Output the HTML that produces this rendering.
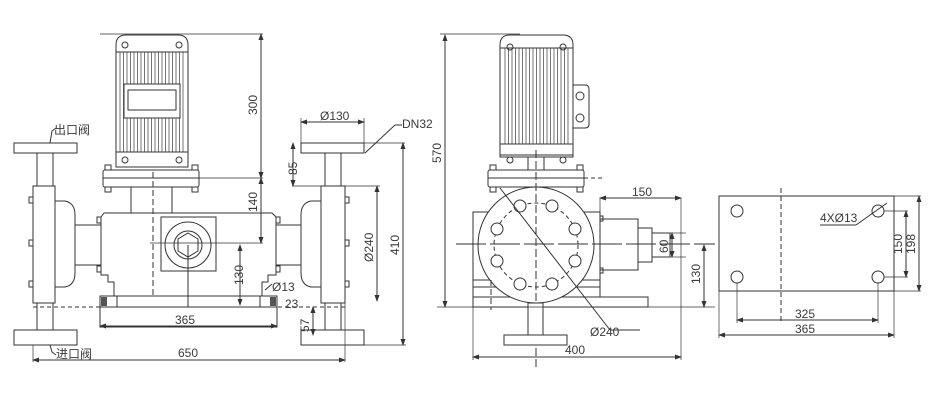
<!DOCTYPE html>
<html><head><meta charset="utf-8"><style>
html,body{margin:0;padding:0;background:#fff;}
svg{display:block;}
text{font-family:"Liberation Sans","Noto Sans CJK SC",sans-serif;font-size:12px;fill:#3a3a3a;}
</style></head><body>
<svg width="930" height="400" viewBox="0 0 930 400" xmlns="http://www.w3.org/2000/svg">
<defs>
<marker id="a" markerWidth="7" markerHeight="5" refX="6" refY="2.5" orient="auto-start-reverse"><path d="M0,0 L7,2.5 L0,5 z" fill="#333"/></marker>
<pattern id="fins" width="3.5" height="10" patternUnits="userSpaceOnUse"><rect width="3.5" height="10" fill="#fff"/><line x1="1" y1="0" x2="1" y2="10" stroke="#666" stroke-width="0.9"/></pattern>
</defs>
<g fill="none" stroke="#333" stroke-width="1">
<!-- ===== LEFT VIEW ===== -->
<path d="M116,45 Q116,35 126,35 L178,35 Q188,35 188,45 L188,167 L116,167 Z" fill="#fff"/>
<rect x="118" y="52" width="68" height="100" fill="url(#fins)" stroke="none"/>
<line x1="116" y1="52" x2="188" y2="52"/><line x1="116" y1="152" x2="188" y2="152"/>
<rect x="124" y="84" width="56" height="34" fill="#fff"/>
<rect x="128" y="90" width="48" height="20" fill="#fff"/>
<circle cx="125" cy="45" r="3"/><circle cx="179" cy="45" r="3"/><circle cx="125" cy="160" r="3"/><circle cx="179" cy="160" r="3"/>
<rect x="103" y="170" width="96" height="17" rx="2" fill="#fff"/>
<line x1="103" y1="178" x2="199" y2="178"/>
<rect x="105" y="165" width="6" height="5"/><rect x="192" y="165" width="6" height="5"/>
<rect x="105" y="187" width="6" height="5"/><rect x="192" y="187" width="6" height="5"/>
<rect x="131" y="187" width="41" height="26"/>
<path d="M104,213 L272,213 L276,217 L276,275 L268,275 L268,282 L262,282 L262,296 L114,296 L114,282 L108,282 L108,275 L101,275 L101,217 Z" fill="#fff"/>
<rect x="161" y="217" width="55" height="54"/>
<circle cx="188" cy="245" r="23"/><circle cx="188" cy="245" r="14"/>
<polygon points="188,233 198,239 198,251 188,257 178,251 178,239"/>
<rect x="100" y="296" width="17" height="11"/><rect x="260" y="296" width="17" height="11"/>
<rect x="101" y="297" width="6" height="9" fill="#555" stroke="none"/><rect x="270" y="297" width="6" height="9" fill="#555" stroke="none"/>
<rect x="100" y="307" width="177" height="20"/>
<line x1="117" y1="296" x2="260" y2="296" stroke-dasharray="4,3"/>
<line x1="33" y1="307" x2="345" y2="307" stroke-dasharray="4,3"/>
<line x1="153" y1="172" x2="153" y2="296" stroke-dasharray="6,3"/>
<line x1="188" y1="245" x2="188" y2="307"/>
<rect x="14" y="143" width="63" height="10"/>
<rect x="37" y="153" width="16" height="33"/>
<rect x="33" y="186" width="22" height="117"/>
<path d="M55,201 L65,201 Q75,203 75,215 L75,273 Q75,285 65,287 L55,287"/>
<rect x="75" y="225" width="26" height="40"/>
<rect x="29" y="197" width="4" height="6"/><rect x="29" y="240" width="4" height="6"/><rect x="29" y="281" width="4" height="6"/>
<rect x="97" y="217" width="4" height="6"/><rect x="97" y="266" width="4" height="6"/>
<rect x="37" y="303" width="16" height="27"/>
<rect x="14" y="330" width="63" height="15"/>
<rect x="301" y="143" width="63" height="10"/>
<rect x="325" y="153" width="16" height="33"/>
<rect x="321" y="186" width="24" height="117"/>
<path d="M321,201 L311,201 Q301,203 301,215 L301,273 Q301,285 311,287 L321,287"/>
<rect x="276" y="225" width="25" height="40"/>
<rect x="345" y="197" width="4" height="6"/><rect x="345" y="240" width="4" height="6"/><rect x="345" y="281" width="4" height="6"/>
<rect x="276" y="217" width="4" height="6"/><rect x="276" y="266" width="4" height="6"/>
<rect x="325" y="303" width="16" height="27"/>
<rect x="301" y="330" width="63" height="15"/>
<line x1="100" y1="34" x2="263" y2="34" stroke-width="0.7"/>
<line x1="261" y1="34" x2="261" y2="178" marker-start="url(#a)" marker-end="url(#a)"/>
<line x1="199" y1="178" x2="263" y2="178" stroke-width="0.7"/>
<line x1="261" y1="178" x2="261" y2="243" marker-start="url(#a)" marker-end="url(#a)"/>
<line x1="150" y1="243" x2="263" y2="243" stroke-width="0.7"/>
<line x1="240" y1="245" x2="240" y2="305" marker-start="url(#a)" marker-end="url(#a)"/>
<line x1="301" y1="122" x2="364" y2="122" marker-start="url(#a)" marker-end="url(#a)"/>
<line x1="301" y1="118" x2="301" y2="143" stroke-width="0.7"/><line x1="364" y1="118" x2="364" y2="143" stroke-width="0.7"/>
<line x1="364" y1="143" x2="405" y2="143" stroke-width="0.7"/>
<line x1="292" y1="186" x2="380" y2="186" stroke-width="0.7"/>
<line x1="293" y1="143" x2="293" y2="186" marker-start="url(#a)" marker-end="url(#a)"/>
<line x1="377" y1="186" x2="377" y2="301" marker-start="url(#a)" marker-end="url(#a)"/>
<line x1="403" y1="143" x2="403" y2="345" marker-start="url(#a)" marker-end="url(#a)"/>
<line x1="364" y1="345" x2="406" y2="345" stroke-width="0.7"/>
<line x1="313" y1="307" x2="313" y2="335" marker-start="url(#a)" marker-end="url(#a)"/>
<line x1="100" y1="326" x2="277" y2="326" marker-start="url(#a)" marker-end="url(#a)"/>
<line x1="33" y1="345" x2="33" y2="362" stroke-width="0.7"/><line x1="345" y1="303" x2="345" y2="362" stroke-width="0.7"/>
<line x1="33" y1="360" x2="345" y2="360" marker-start="url(#a)" marker-end="url(#a)"/>
<path d="M365,153 L395,125 L402,125"/>
<path d="M50,143 L52,131 L56,128"/>
<path d="M50,345 L52,352 L56,355"/>
<line x1="265" y1="290" x2="272" y2="284"/>
<!-- ===== MIDDLE VIEW ===== -->
<path d="M500,45 Q500,35 510,35 L563,35 Q573,35 573,45 L573,157 L500,157 Z" fill="#fff"/>
<rect x="502" y="48" width="69" height="96" fill="url(#fins)" stroke="none"/>
<line x1="500" y1="48" x2="573" y2="48"/><rect x="500" y="144" width="73" height="11"/>
<circle cx="510" cy="47" r="3"/><circle cx="563" cy="47" r="3"/><circle cx="510" cy="160" r="3"/><circle cx="563" cy="160" r="3"/>
<path d="M573,85 L585,85 Q589,85 589,89 L589,124 Q589,128 585,128 L573,128"/>
<circle cx="580" cy="96" r="4"/><circle cx="580" cy="118" r="4"/>
<rect x="528" y="157" width="16" height="14"/>
<rect x="488" y="170" width="96" height="17" rx="2" fill="#fff"/>
<line x1="488" y1="178" x2="584" y2="178"/>
<rect x="490" y="165" width="6" height="5"/><rect x="577" y="165" width="6" height="5"/>
<rect x="490" y="187" width="6" height="5"/><rect x="577" y="187" width="6" height="5"/>
<line x1="584" y1="178" x2="605" y2="178" stroke-dasharray="4,3"/>
<rect x="473" y="212" width="127" height="85"/>
<line x1="473" y1="280" x2="600" y2="280"/><line x1="473" y1="287" x2="600" y2="287"/>
<rect x="600" y="219" width="38" height="51" fill="#fff"/>
<rect x="600" y="216" width="3" height="5"/><rect x="600" y="268" width="3" height="5"/>
<rect x="638" y="228" width="14" height="34" fill="#fff"/>
<rect x="652" y="233" width="18" height="24" fill="#fff"/>
<rect x="473" y="297" width="175" height="10" fill="#fff"/>
<circle cx="536" cy="245" r="58" fill="#fff"/>
<circle cx="536" cy="245" r="42" stroke-dasharray="4,3"/>
<g fill="#fff">
<circle cx="552" cy="206" r="6"/><circle cx="575" cy="229" r="6"/><circle cx="575" cy="261" r="6"/><circle cx="552" cy="284" r="6"/>
<circle cx="520" cy="284" r="6"/><circle cx="497" cy="261" r="6"/><circle cx="497" cy="229" r="6"/><circle cx="520" cy="206" r="6"/>
</g>
<line x1="536" y1="150" x2="536" y2="368" stroke-dasharray="8,3"/>
<line x1="456" y1="244" x2="715" y2="244" stroke-dasharray="30,4"/>
<line x1="491" y1="280" x2="491" y2="310" stroke-dasharray="6,3"/>
<rect x="528" y="303" width="15" height="32" fill="#fff"/>
<rect x="504" y="335" width="63" height="10" fill="#fff"/>
<line x1="500" y1="188" x2="610" y2="330"/><line x1="610" y1="330" x2="640" y2="330"/>
<line x1="440" y1="34" x2="520" y2="34" stroke-width="0.7"/>
<line x1="445" y1="35" x2="445" y2="307" marker-start="url(#a)" marker-end="url(#a)"/>
<line x1="437" y1="307" x2="715" y2="307" stroke-width="0.7"/>
<line x1="473" y1="307" x2="473" y2="360" stroke-width="0.7"/><line x1="681" y1="198" x2="681" y2="360" stroke-width="0.7"/>
<line x1="473" y1="357" x2="681" y2="357" marker-start="url(#a)" marker-end="url(#a)"/>
<line x1="600" y1="198" x2="600" y2="214" stroke-width="0.7"/>
<line x1="600" y1="198" x2="681" y2="198" marker-start="url(#a)" marker-end="url(#a)"/>
<line x1="670" y1="233" x2="686" y2="233" stroke-width="0.7"/><line x1="670" y1="257" x2="686" y2="257" stroke-width="0.7"/>
<line x1="672" y1="233" x2="672" y2="257" marker-start="url(#a)" marker-end="url(#a)"/>
<line x1="704" y1="245" x2="704" y2="307" marker-start="url(#a)" marker-end="url(#a)"/>
<!-- ===== RIGHT VIEW ===== -->
<rect x="719" y="196" width="175" height="95"/>
<circle cx="737" cy="211" r="6"/><circle cx="878" cy="211" r="6"/><circle cx="737" cy="277" r="6"/><circle cx="878" cy="277" r="6"/>
<line x1="781" y1="188" x2="781" y2="322" stroke-dasharray="5,3"/>
<line x1="737" y1="283" x2="737" y2="323" stroke-width="0.7"/><line x1="878" y1="283" x2="878" y2="323" stroke-width="0.7"/>
<line x1="737" y1="320" x2="878" y2="320" marker-start="url(#a)" marker-end="url(#a)"/>
<line x1="719" y1="291" x2="719" y2="338" stroke-width="0.7"/><line x1="894" y1="291" x2="894" y2="338" stroke-width="0.7"/>
<line x1="719" y1="335" x2="894" y2="335" marker-start="url(#a)" marker-end="url(#a)"/>
<line x1="884" y1="211" x2="908" y2="211" stroke-width="0.7"/><line x1="884" y1="277" x2="908" y2="277" stroke-width="0.7"/>
<line x1="906" y1="211" x2="906" y2="277" marker-start="url(#a)" marker-end="url(#a)"/>
<line x1="894" y1="196" x2="921" y2="196" stroke-width="0.7"/><line x1="894" y1="291" x2="921" y2="291" stroke-width="0.7"/>
<line x1="919" y1="196" x2="919" y2="291" marker-start="url(#a)" marker-end="url(#a)"/>
<line x1="856" y1="225" x2="887" y2="203"/><line x1="820" y1="225" x2="856" y2="225"/>
</g>
<text x="54" y="134" font-size="11">出口阀</text>
<text x="56" y="358" font-size="11">进口阀</text>
<text x="320" y="120">Ø130</text>
<text x="402" y="128">DN32</text>
<text x="272" y="291">Ø13</text>
<text x="285" y="308">23</text>
<text x="175" y="324">365</text>
<text x="178" y="357">650</text>
<text x="590" y="336">Ø240</text>
<text x="565" y="354">400</text>
<text x="632" y="196">150</text>
<text x="795" y="318">325</text>
<text x="795" y="333">365</text>
<text x="820" y="222">4XØ13</text>
<text transform="translate(257,115) rotate(-90)">300</text>
<text transform="translate(257,212) rotate(-90)">140</text>
<text transform="translate(243,285) rotate(-90)">130</text>
<text transform="translate(297,175) rotate(-90)">85</text>
<text transform="translate(373,262) rotate(-90)">Ø240</text>
<text transform="translate(399,255) rotate(-90)">410</text>
<text transform="translate(309,332) rotate(-90)">57</text>
<text transform="translate(441,163) rotate(-90)">570</text>
<text transform="translate(668,253) rotate(-90)">60</text>
<text transform="translate(700,284) rotate(-90)">130</text>
<text transform="translate(902,254) rotate(-90)">150</text>
<text transform="translate(915,254) rotate(-90)">198</text>
</svg>
</body></html>
